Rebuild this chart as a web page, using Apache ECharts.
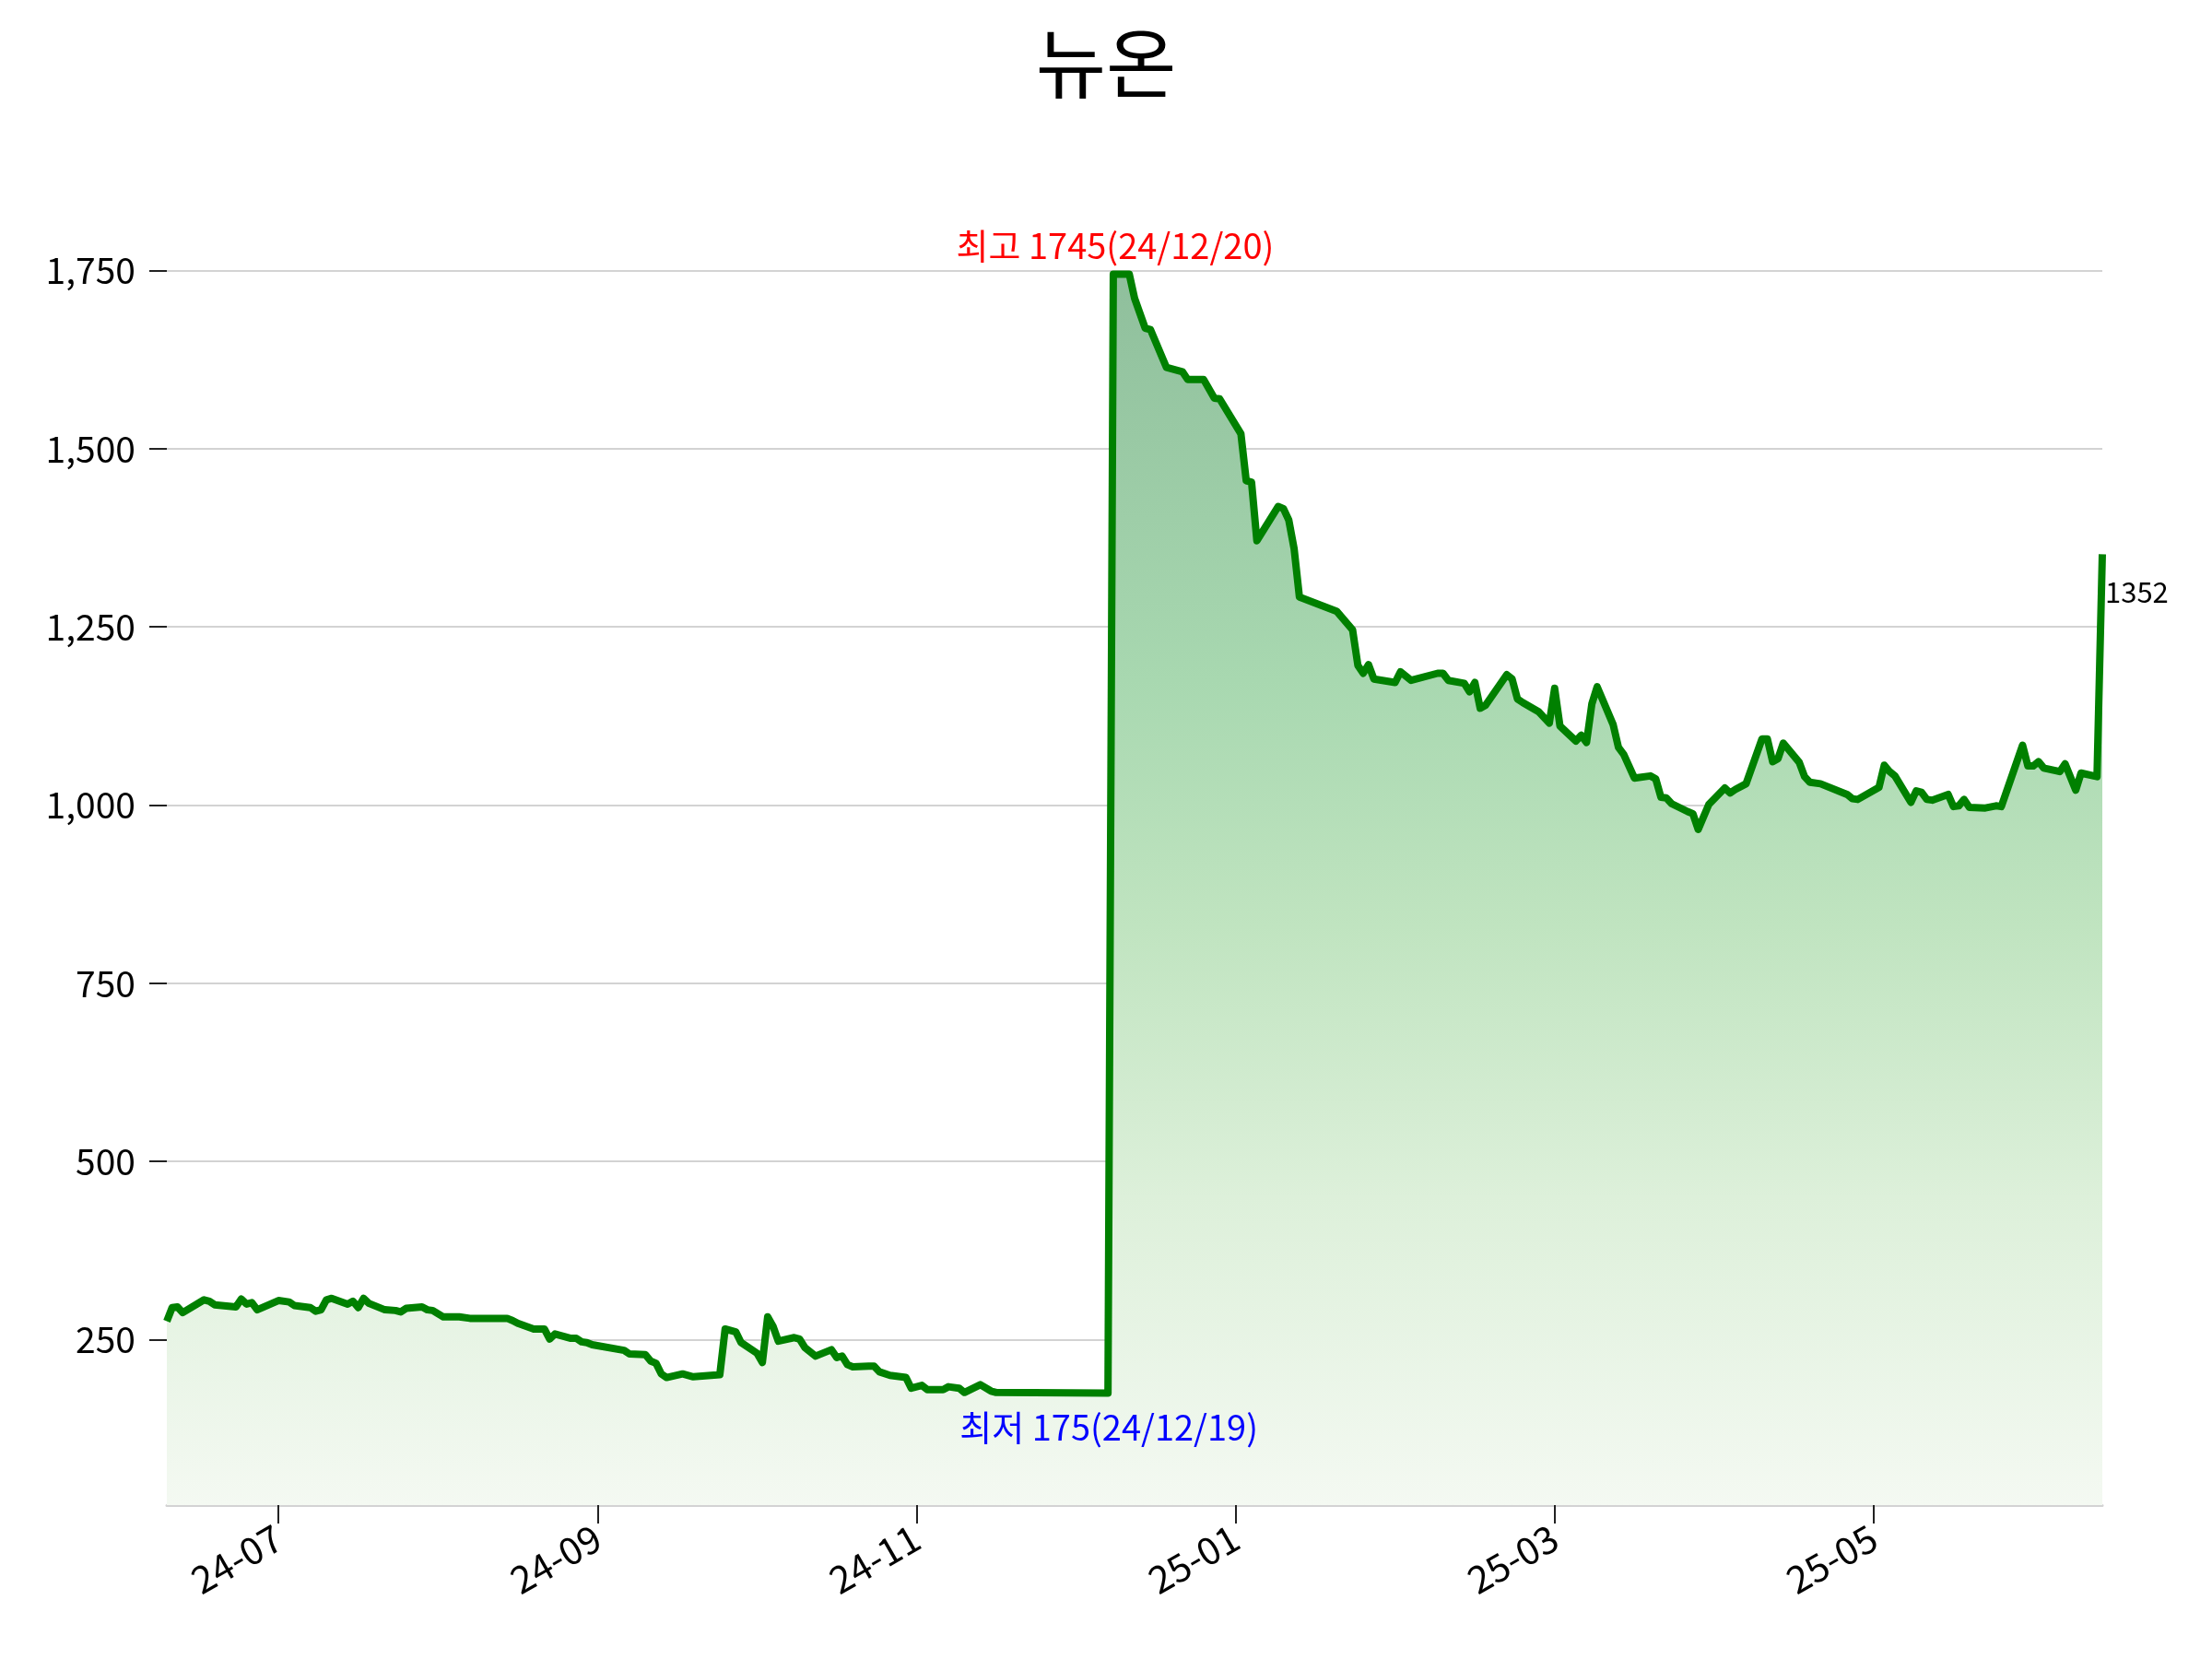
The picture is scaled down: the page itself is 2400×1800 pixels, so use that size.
<!DOCTYPE html>
<html>
<head>
<meta charset="utf-8">
<script src="https://cdn.jsdelivr.net/npm/echarts@6/dist/echarts.min.js"></script>
<style>
  html, body { margin: 0; padding: 0; background: #fff; }
  #chart { width: 2400px; height: 1800px; }
</style>
</head>
<body>
<div id="chart"></div>
<script>
const title = '뉴온'

const dates = [
  '2024-06-25', '2024-06-26', '2024-06-27', '2024-06-28', '2024-07-02', '2024-07-03', '2024-07-04',
  '2024-07-08', '2024-07-09', '2024-07-10', '2024-07-11', '2024-07-12', '2024-07-16', '2024-07-18',
  '2024-07-19', '2024-07-22', '2024-07-23', '2024-07-24', '2024-07-25', '2024-07-26', '2024-07-29',
  '2024-07-30', '2024-07-31', '2024-08-01', '2024-08-02', '2024-08-05', '2024-08-07', '2024-08-08',
  '2024-08-09', '2024-08-12', '2024-08-13', '2024-08-14', '2024-08-16', '2024-08-19', '2024-08-21',
  '2024-08-28', '2024-08-29', '2024-08-30', '2024-09-02', '2024-09-04', '2024-09-05', '2024-09-06',
  '2024-09-09', '2024-09-10', '2024-09-11', '2024-09-12', '2024-09-13', '2024-09-19', '2024-09-20',
  '2024-09-23', '2024-09-24', '2024-09-25', '2024-09-26', '2024-09-27', '2024-09-30', '2024-10-02',
  '2024-10-07', '2024-10-08', '2024-10-10', '2024-10-11', '2024-10-14', '2024-10-15', '2024-10-16',
  '2024-10-17', '2024-10-18', '2024-10-21', '2024-10-22', '2024-10-23', '2024-10-25', '2024-10-28',
  '2024-10-29', '2024-10-30', '2024-10-31', '2024-11-01', '2024-11-04', '2024-11-05', '2024-11-06',
  '2024-11-08', '2024-11-11', '2024-11-12', '2024-11-14', '2024-11-15', '2024-11-18', '2024-11-19',
  '2024-11-21', '2024-11-22', '2024-11-25', '2024-11-27', '2024-11-28', '2024-12-19', '2024-12-20',
  '2024-12-23', '2024-12-24', '2024-12-26', '2024-12-27', '2024-12-30', '2025-01-02', '2025-01-03',
  '2025-01-06', '2025-01-08', '2025-01-09', '2025-01-13', '2025-01-14', '2025-01-15', '2025-01-16',
  '2025-01-20', '2025-01-21', '2025-01-22', '2025-01-23', '2025-01-24', '2025-01-31', '2025-02-03',
  '2025-02-04', '2025-02-05', '2025-02-06', '2025-02-07', '2025-02-11', '2025-02-12', '2025-02-14',
  '2025-02-19', '2025-02-20', '2025-02-21', '2025-02-24', '2025-02-25', '2025-02-26', '2025-02-27',
  '2025-02-28', '2025-03-04', '2025-03-05', '2025-03-06', '2025-03-07', '2025-03-10', '2025-03-12',
  '2025-03-13', '2025-03-14', '2025-03-17', '2025-03-18', '2025-03-19', '2025-03-20', '2025-03-21',
  '2025-03-24', '2025-03-25', '2025-03-26', '2025-03-28', '2025-03-31', '2025-04-01', '2025-04-02',
  '2025-04-03', '2025-04-04', '2025-04-07', '2025-04-08', '2025-04-09', '2025-04-11', '2025-04-14',
  '2025-04-15', '2025-04-16', '2025-04-18', '2025-04-21', '2025-04-22', '2025-04-23', '2025-04-24',
  '2025-04-25', '2025-04-28', '2025-04-29', '2025-04-30', '2025-05-02', '2025-05-07', '2025-05-08',
  '2025-05-09', '2025-05-13', '2025-05-14', '2025-05-15', '2025-05-16', '2025-05-19', '2025-05-20',
  '2025-05-21', '2025-05-22', '2025-05-23', '2025-05-26', '2025-05-27', '2025-05-28', '2025-05-29',
  '2025-05-30', '2025-06-02', '2025-06-04', '2025-06-05', '2025-06-09', '2025-06-10', '2025-06-11',
  '2025-06-12', '2025-06-13', '2025-06-16', '2025-06-17', '2025-06-19', '2025-06-20', '2025-06-23',
  '2025-06-24'
]

const closes = [
  276, 295, 296, 288, 306, 304, 299,
  296, 307, 300, 302, 292, 305, 303,
  298, 295, 290, 292, 306, 308, 300,
  304, 295, 308, 301, 292, 291, 289,
  294, 296, 292, 291, 282, 282, 280,
  280, 277, 273, 265, 265, 251, 258,
  252, 252, 247, 246, 243, 235, 230,
  229, 220, 217, 202, 197, 202, 198,
  201, 265, 261, 246, 231, 218, 282,
  269, 248, 253, 251, 239, 227, 236,
  225, 227, 215, 212, 213, 213, 205,
  200, 197, 182, 186, 180, 180, 184,
  182, 176, 187, 178, 176, 175, 1745,
  1745, 1711, 1669, 1667, 1614, 1608, 1597,
  1597, 1571, 1570, 1521, 1455, 1453, 1371,
  1419, 1416, 1400, 1360, 1292, 1272, 1246,
  1196, 1185, 1197, 1177, 1172, 1187, 1175,
  1185, 1185, 1175, 1171, 1159, 1172, 1136,
  1140, 1183, 1177, 1149, 1144, 1131, 1115,
  1164, 1111, 1090, 1098, 1088, 1142, 1166,
  1113, 1081, 1071, 1038, 1041, 1037, 1011,
  1010, 1002, 991, 988, 966, 1001, 1024,
  1017, 1022, 1030, 1093, 1093, 1061, 1065,
  1087, 1060, 1040, 1032, 1030, 1015, 1009,
  1008, 1025, 1056, 1047, 1041, 1004, 1020,
  1018, 1008, 1007, 1015, 998, 999, 1008,
  997, 996, 999, 998, 1084, 1055, 1055,
  1061, 1052, 1047, 1058, 1021, 1045, 1040,
  1352
]

// x ticks fall every 60 days, y ticks every 250
const xTicks = ['2024-07-16', '2024-09-14', '2024-11-13', '2025-01-12', '2025-03-13', '2025-05-12']
const yTicks = [250, 500, 750, 1000, 1250, 1500, 1750]

const font = '"Noto Sans CJK KR", "Noto Sans", sans-serif'

const toTime = (d) => echarts.number.parseDate(d).getTime()

const maxVal = Math.max(...closes)
const minVal = Math.min(...closes)
const maxIdx = closes.indexOf(maxVal)
const minIdx = closes.indexOf(minVal)
const lastIdx = closes.length - 1
const span = maxVal - minVal

const shortDate = (d) => d.slice(2).replace(/-/g, '/')

const chart = echarts.init(document.getElementById('chart'))

chart.setOption({
  animation: false,
  backgroundColor: '#fff',
  title: {
    text: title,
    left: 'center',
    top: 22,
    textStyle: { fontFamily: font, fontSize: 83, fontWeight: 'normal', color: '#000' }
  },
  grid: {
    left: 181,
    right: 119,
    top: 176,
    bottom: 167
  },
  xAxis: {
    type: 'value',
    min: toTime(dates[0]),
    max: toTime(dates[lastIdx]),
    axisLine: { show: true, lineStyle: { color: '#d3d3d3', width: 3 } },
    axisTick: { show: true, length: 20, customValues: xTicks.map(toTime), lineStyle: { color: '#222', width: 2 } },
    splitLine: { show: false },
    axisLabel: {
      customValues: xTicks.map(toTime),
      rotate: 30,
      margin: 32,
      color: '#000',
      fontFamily: font,
      fontSize: 41,
      formatter: (val) => echarts.time.format(val, '{yy}-{MM}', false)
    }
  },
  yAxis: {
    type: 'value',
    min: Math.round(minVal - span * 0.1),
    max: Math.round(maxVal + span * 0.1),
    axisLine: { show: false },
    axisTick: { show: true, length: 19, customValues: yTicks, lineStyle: { color: '#222', width: 2 } },
    splitLine: { show: true, lineStyle: { color: '#d3d3d3', width: 2 } },
    axisLabel: {
      customValues: yTicks,
      margin: 34,
      color: '#000',
      fontFamily: font,
      fontSize: 39,
      formatter: (v) => v.toLocaleString('en-US')
    }
  },
  series: [
    {
      type: 'line',
      data: dates.map((d, i) => [toTime(d), closes[i]]),
      showSymbol: false,
      symbol: 'none',
      lineStyle: { color: '#008000', width: 8, join: 'round' },
      areaStyle: {
        opacity: 1,
        color: {
          type: 'linear',
          x: 0, y: 0, x2: 0, y2: 1,
          colorStops: [
            { offset: 0, color: '#8fbf9c' },
            { offset: 0.33, color: '#a8d8b0' },
            { offset: 0.53, color: '#c0e4c0' },
            { offset: 0.75, color: '#ddf0da' },
            { offset: 1, color: '#f4f9f2' }
          ]
        }
      },
      markPoint: {
        symbol: 'circle',
        symbolSize: 1,
        itemStyle: { color: 'transparent' },
        data: [
          {
            coord: [toTime(dates[maxIdx]), maxVal],
            label: {
              show: true,
              position: 'inside',
              offset: [2, -31],
              formatter: `최고 ${maxVal}(${shortDate(dates[maxIdx])})`,
              color: '#ff0000',
              fontFamily: font,
              fontSize: 38
            }
          },
          {
            coord: [toTime(dates[minIdx]), minVal],
            label: {
              show: true,
              position: 'inside',
              offset: [1, 37],
              formatter: `최저 ${minVal}(${shortDate(dates[minIdx])})`,
              color: '#0000ff',
              fontFamily: font,
              fontSize: 38
            }
          },
          {
            coord: [toTime(dates[lastIdx]), closes[lastIdx]],
            label: {
              show: true,
              position: 'inside',
              align: 'left',
              offset: [3, 41],
              formatter: `${closes[lastIdx]}`,
              color: '#000',
              fontFamily: font,
              fontSize: 31
            }
          }
        ]
      }
    }
  ]
})
</script>
</body>
</html>
